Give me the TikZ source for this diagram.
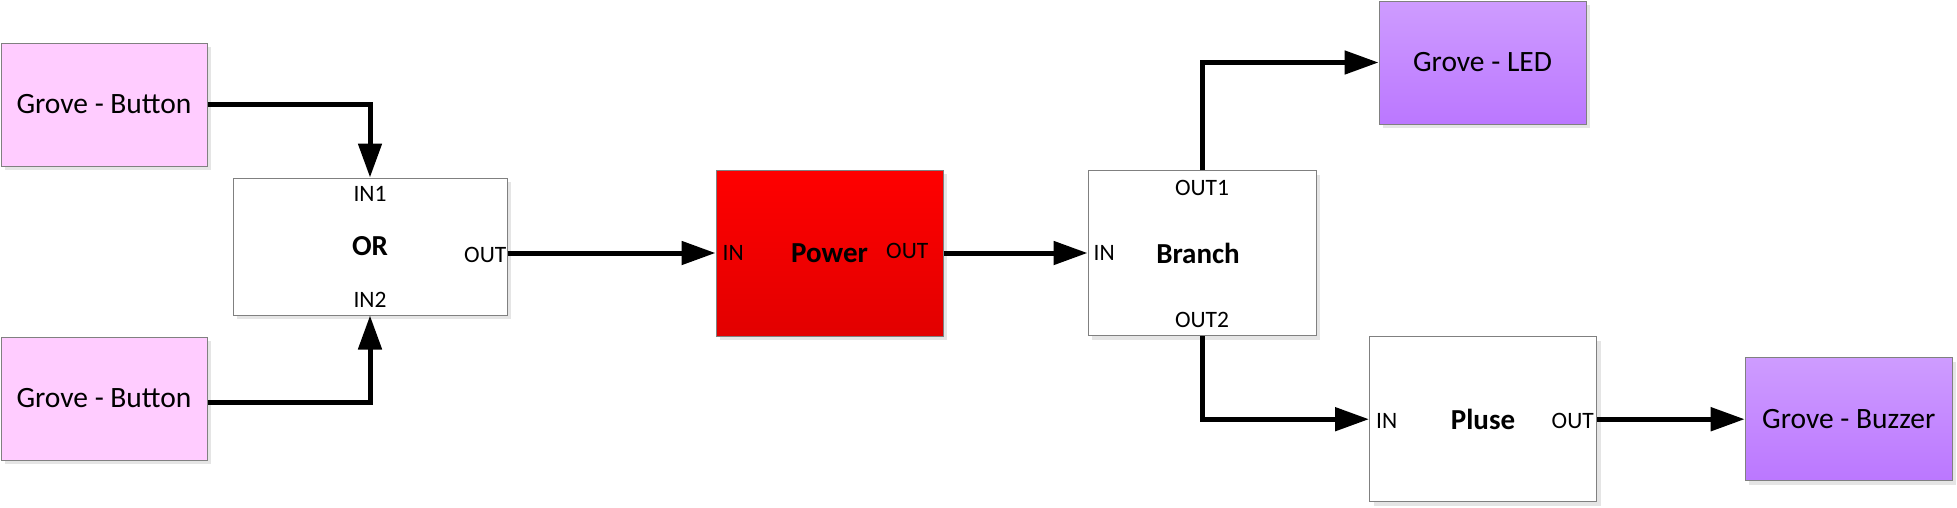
\documentclass[tikz,border=0pt]{standalone}
\usepackage{fontspec}
\setmainfont{Carlito}
\usetikzlibrary{arrows.meta,shadows}

\definecolor{btnpink}{RGB}{255,204,255}
\definecolor{violettop}{RGB}{206,156,255}
\definecolor{violetbot}{RGB}{187,119,255}
\definecolor{redbot}{RGB}{226,0,0}

\tikzset{
    block/.style={draw=black!50, line width=1pt, inner sep=0pt,
        drop shadow={shadow xshift=4pt, shadow yshift=-4pt, fill=black!10, opacity=1},
        font=\fontsize{29.5}{34}\selectfont},
    grovein/.style={block, fill=btnpink, minimum width=206pt, minimum height=123pt},
    groveout/.style={block, top color=violettop, bottom color=violetbot, minimum width=207pt, minimum height=123pt},
    logic/.style={block, fill=white, font=\fontsize{29}{34}\selectfont\bfseries},
    port/.style={inner sep=0pt, font=\fontsize{23.5}{28}\selectfont},
    wire/.style={line width=5pt, -{Triangle[length=34pt,width=23pt]}},
}

\begin{document}
\begin{tikzpicture}[x=1pt, y=-1pt]
    \useasboundingbox (0,0) rectangle (1957,507);

    % inputs
    \node[grovein] (btnA) at (104,104.5) {Grove - Button};
    \node[grovein] (btnB) at (104,398.5) {Grove - Button};

    % or gate
    \node[logic, minimum width=274pt, minimum height=137pt] (or) at (370,246.5) {OR};
    \node[port, anchor=north] at ([yshift=-9pt]or.north) {IN1};
    \node[port, anchor=south] at ([yshift=8pt]or.south) {IN2};
    \node[port, anchor=east] at ([xshift=-1pt, yshift=-8pt]or.east) {OUT};

    % power
    \node[logic, top color=red, bottom color=redbot, minimum width=227pt, minimum height=166pt] (power) at (829.5,253) {Power};
    \node[port, anchor=west] at ([xshift=7pt]power.west) {IN};
    \node[port, anchor=east] at ([xshift=-15pt, yshift=2pt]power.east) {OUT};

    % branch
    \node[logic, minimum width=228pt, minimum height=165pt] (branch) at (1202,253) {\hspace*{-8pt}Branch};
    \node[port, anchor=north] at ([yshift=-10pt]branch.north) {OUT1};
    \node[port, anchor=south] at ([yshift=8pt]branch.south) {OUT2};
    \node[port, anchor=west] at ([xshift=6pt]branch.west) {IN};

    % pulse
    \node[logic, minimum width=227pt, minimum height=165pt] (pulse) at (1483,419.2) {Pluse};
    \node[port, anchor=west] at ([xshift=7pt, yshift=-2pt]pulse.west) {IN};
    \node[port, anchor=east] at ([xshift=-3pt, yshift=-2pt]pulse.east) {OUT};

    % outputs
    \node[groveout] (led) at (1482.5,62.5) {Grove - LED};
    \node[groveout] (buzzer) at (1848.7,419.2) {Grove - Buzzer};

    % wires
    \draw[wire] (btnA.east) -| (or.north);
    \draw[wire] ([yshift=-4pt]btnB.east) -| (or.south);
    \draw[wire] ([yshift=-6.5pt]or.east) -- (power.west);
    \draw[wire] (power.east) -- (branch.west);
    \draw[wire] (branch.north) |- (led.west);
    \draw[wire] (branch.south) |- (pulse.west);
    \draw[wire] (pulse.east) -- (buzzer.west);
\end{tikzpicture}
\end{document}
